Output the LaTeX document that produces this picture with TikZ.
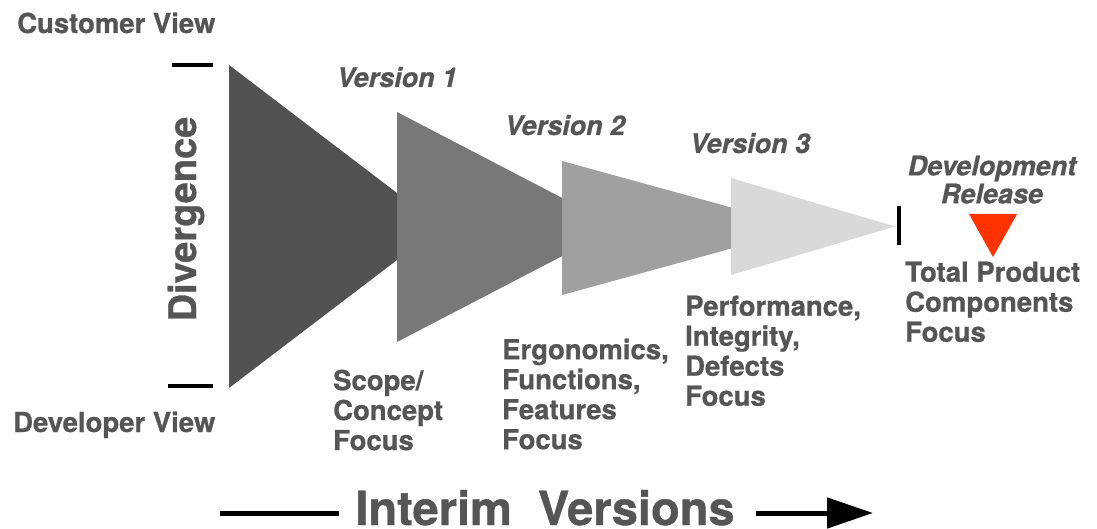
\documentclass[tikz,border=0pt]{standalone}
\usepackage{fontspec}
\setmainfont{TeX Gyre Heros}[BoldFeatures={FakeBold=0.8}, BoldItalicFeatures={FakeBold=0.8}]
\usepackage{tikz}
\usetikzlibrary{arrows.meta}
\usetikzlibrary{positioning}
\definecolor{txtgray}{HTML}{555555}
\definecolor{stageone}{HTML}{525252}
\definecolor{stagetwo}{HTML}{787878}
\definecolor{stagethree}{HTML}{A0A0A0}
\definecolor{stagefour}{HTML}{D9D9D9}
\definecolor{releasered}{HTML}{FF3300}
\newcommand{\versiontri}[5]{\fill[#5] (#1,#2) -- (#1,#3) -- (#4,{(#2+#3)/2}) -- cycle;}

\begin{document}
\begin{tikzpicture}[x=1pt, y=-1pt,
	lbl/.style = {font=\fontsize{27.5}{30}\selectfont\bfseries, text=txtgray, inner sep=0pt, align=left},
	vlbl/.style = {font=\fontsize{27}{28}\selectfont\bfseries\itshape, text=txtgray, inner sep=0pt, align=center},
	viewtick/.style = {line width=3.5pt, black}]

					\useasboundingbox (0,0) rectangle (1097,529);

					\versiontri{229}{65}{388}{441}{stageone}
					\versiontri{397}{112}{342}{618}{stagetwo}
					\versiontri{562}{161}{295}{806}{stagethree}
					\versiontri{731}{178}{275}{895}{stagefour}

					\draw[viewtick] (172,65) -- (213,65);
					\draw[viewtick] (168,386) -- (213,386);
					\draw[viewtick] (899,206) -- (899,245);

					\fill[releasered] (969,214) -- (1017,214) -- (993,257) -- cycle;

					\node[lbl, anchor=base west] (customer) at (17,33) {Customer View};
					\node[lbl, anchor=base west] (developer) at (13,432) {Developer View};
					\node[lbl, font=\fontsize{38}{38}\selectfont\bfseries, rotate=90] (diverge) at (186,219) {Divergence};

					\node[vlbl, anchor=base] (vone) at (397,87) {Version 1};
					\node[vlbl, anchor=base] (vtwo) at (565,135) {Version 2};
					\node[vlbl, anchor=base] (vthree) at (750,153) {Version 3};
					\node[vlbl, anchor=north] (release) at (992,155.5) {Development\\Release};

					\node[lbl, anchor=north west] (scope) at (333,369.5) {Scope/\\Concept\\Focus};
					\node[lbl, anchor=north west] (ergo) at (502,338.5) {Ergonomics,\\Functions,\\Features\\Focus};
					\node[lbl, anchor=north west] (perf) at (685,295.5) {Performance,\\Integrity,\\Defects\\Focus};
					\node[lbl, anchor=north west] (total) at (905,261.5) {Total Product\\Components\\Focus};

					\node[lbl, font=\fontsize{47}{47}\selectfont\bfseries, anchor=base] (interim) at (545,525) {Interim\ \ Versions};
					\coordinate (linestart) at (220,513);
					\coordinate (lineend) at (873,513);
					\draw[line width=5pt] (linestart) -- ([xshift=-16pt]interim.west |- linestart);
					\draw[line width=5pt, -{Triangle[length=46pt, width=30pt]}] ([xshift=21pt]interim.east |- lineend) -- (lineend);

				\end{tikzpicture}
\end{document}
